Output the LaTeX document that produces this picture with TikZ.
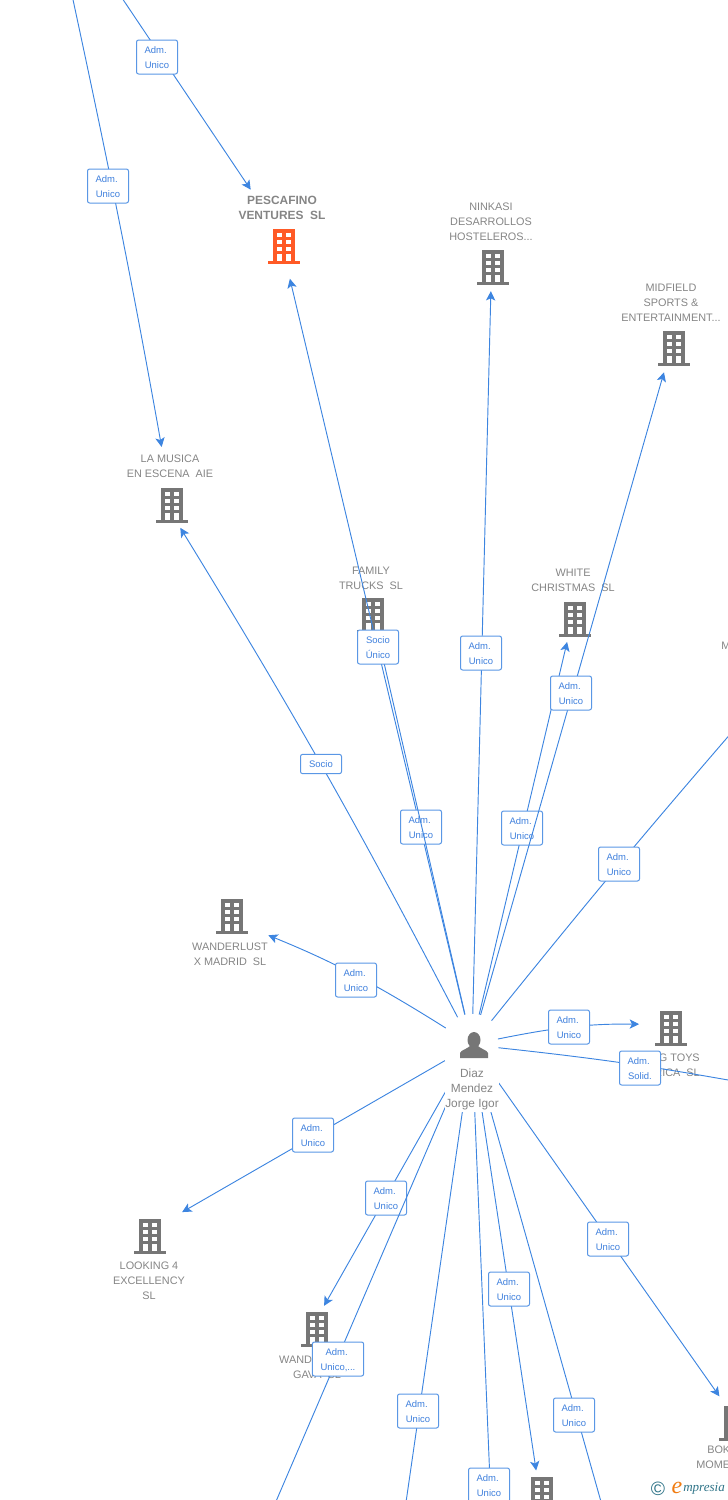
\documentclass[tikz,border=0pt]{standalone}
\usepackage{fontspec}
\usepackage{tikz}
\usetikzlibrary{arrows.meta}
\setmainfont{Liberation Sans}
\newfontfamily\logofont{Liberation Serif}
\definecolor{linkblue}{HTML}{3D85E0}
\definecolor{tagblue}{HTML}{3F80DD}
\definecolor{namegray}{HTML}{858585}
\definecolor{iconorange}{HTML}{FF5A26}
\definecolor{icongray}{HTML}{767676}
\definecolor{logoteal}{HTML}{2F7488}
\definecolor{logoorange}{HTML}{F07C12}
\newcommand{\topstrut}{\rule{0pt}{6.6pt}}
\newcommand{\adm}{\topstrut Adm.\kern2pt}
\tikzset{
    link/.style={draw=linkblue, line width=0.7pt, -{Stealth[length=7pt,width=7pt,inset=1.7pt]}},
    plainlink/.style={draw=linkblue, line width=0.7pt},
    tag/.style={draw=linkblue!85!white, fill=white, line width=0.75pt, rounded corners=1.6pt, align=center,
        text=tagblue, font=\fontsize{7.1}{11.25}\selectfont, inner sep=0pt, minimum width=30.75pt, minimum height=25.5pt},
    spot/.style={circle, inner sep=0pt, minimum size=36pt},
    coname/.style={align=center, text=namegray, font=\fontsize{8.15}{11.25}\selectfont, inner sep=0pt},
    building/.pic={
        \fill[pic actions] (-11,-17) rectangle (11,15);
        \fill[pic actions] (-16,15) rectangle (16,18);
        \foreach \wx in {-7,2.4} {
            \foreach \wy in {-13,-5.7,1} {
                \fill[white] (\wx,\wy) rectangle ++(4.6,4);
            }
            \fill[white] (\wx,7.6) rectangle ++(4.6,7.4);
        }
    }
}
\begin{document}
\begin{tikzpicture}[x=0.75pt, y=-0.75pt]
    \clip[use as bounding box] (0,0) rectangle (728,1500);

    % companies
    \foreach \co/\cx/\cy in {ninkasi/493/267, midfield/674/348, musica/172/505, family/373/615,
        white/575/619, wanderlust/232/916, toys/671/1028, looking/150/1236, wandel/317/1329,
        boka/735/1423, lastco/542/1494} {
        \node[spot] (\co) at (\cx,\cy) {};
        \pic[fill=icongray] at (\cx,\cy) {building};
    }
    \node[spot] (pescafino) at (284,246) {};
    \pic[fill=iconorange] at (284,246) {building};

    \node[coname, font=\bfseries\fontsize{8.95}{11.25}\selectfont] (pescafinoname) at (282,208) {PESCAFINO\\VENTURES\ \ SL};
    \node[coname] (ninkasiname) at (491,222) {NINKASI\\DESARROLLOS\\HOSTELEROS...};
    \node[coname] (midfieldname) at (671,303) {MIDFIELD\\SPORTS \&\\ENTERTAINMENT...};
    \node[coname] (musicaname) at (170,466) {LA MUSICA\\EN ESCENA\ \ AIE};
    \node[coname] (familyname) at (371,578) {FAMILY\\TRUCKS\ \ SL};
    \node[coname] (whitename) at (573,580) {WHITE\\CHRISTMAS\ \ SL};
    \node[coname] (wanderlustname) at (230,954) {WANDERLUST\\X MADRID\ \ SL};
    \node[coname, align=right, anchor=east] (toysname) at (700,1065) {G TOYS\\RICA\ \ SL};
    \node[coname] (lookingname) at (149,1281) {LOOKING 4\\EXCELLENCY\\SL};
    \node[coname] (wandelname) at (317,1367) {WANDERLUST\\GAVA\ \ SL};
    \node[coname, align=left, anchor=north west] (bokaname) at (696,1446) {\hspace*{8.25pt}BOK\\MOME};
    \node[coname, anchor=west] (edgename) at (721,646) {M};

    % person
    \node[circle, inner sep=0pt, minimum size=46.5pt] (hub) at (472,1045) {};

    \coordinate (offtopa) at (122,-2);
    \coordinate (offtopb) at (72,-5);
    \coordinate (offright) at (745,717);
    \coordinate (offsolid) at (745,1083);
    \coordinate (offbota) at (265,1527);
    \coordinate (offbotb) at (402,1530);
    \coordinate (offbotc) at (492,1530);
    \coordinate (offbotd) at (609,1530);

    % connectors, each with its own tag on top
    \draw[link, shorten >=31pt] (offtopa) -- (pescafino.115) node[tag] (tagtopa) at (157,57) {\adm\\Unico};
    \draw[link, shorten >=26pt] (offtopb) to[bend left=1] (musica) node[tag] (tagtopb) at (108,186) {\adm\\Unico};
    \draw[link, shorten >=6.75pt] (hub) -- (pescafino.279) node[tag] (tagpescafino) at (421,827) {\adm\\Unico};
    \draw[link] (hub) -- (family) node[tag] (tagfamily) at (378,647) {\topstrut Socio\\Único};
    \draw[link] (hub) -- (ninkasi.265) node[tag] (tagninkasi) at (481,653) {\adm\\Unico};
    \draw[link] (hub) -- (white.251) node[tag] (tagwhite) at (522,828) {\adm\\Unico};
    \draw[link, shorten >=1.5pt] (hub) -- (midfield.247) node[tag] (tagmidfield) at (571,693) {\adm\\Unico};
    \draw[link] (hub) to[bend right=2] (musica.290) node[tag, minimum height=14.5pt] (tagmusica) at (321,764) {Socio};
    \draw[link, shorten >=12.75pt] (hub) to[bend right=5] (wanderlust.328) node[tag] (tagwanderlust) at (356,980) {\adm\\Unico};
    \draw[plainlink] (hub) to[bend left=1] (offright) node[tag] (tagright) at (619,864) {\adm\\Unico};
    \draw[link, shorten >=6pt, shorten <=-3.5pt] (hub) to[bend left=6] (toys.171) node[tag] (tagtoys) at (569,1027) {\adm\\Unico};
    \draw[plainlink, shorten <=-3.5pt] (hub) to[bend left=2] (offsolid) node[tag] (tagsolid) at (640,1068) {\adm\\Solid.};
    \draw[link, shorten >=12pt] (hub) -- (looking.41) node[tag] (taglooking) at (313,1135) {\adm\\Unico};
    \draw[link] (hub) -- (wandel.73) node[tag] (tagwandel) at (386,1198) {\adm\\Unico};
    \draw[link, shorten >=5pt] (hub) -- (boka.119) node[tag] (tagboka) at (608,1239) {\adm\\Unico};
    \draw[plainlink] (hub) -- (offbota) node[tag, minimum width=38.5pt] (tagbota) at (338,1359) {\adm\\Unico,...};
    \draw[plainlink] (hub) -- (offbotb) node[tag] (tagbotb) at (418,1411) {\adm\\Unico};
    \draw[link] (hub) -- (lastco.104) node[tag] (taglast) at (509,1289) {\adm\\Unico};
    \draw[plainlink] (hub) -- (offbotc) node[tag] (tagbotc) at (489,1485) {\adm\\Unico};
    \draw[plainlink] (hub) -- (offbotd) node[tag] (tagbotd) at (574,1415) {\adm\\Unico};

    % person on top of the line ends
    \node[coname, fill=white, font=\fontsize{8.9}{11.25}\selectfont, minimum width=41pt, minimum height=35pt] (personname) at (472,1089) {Diaz\\Mendez\\Jorge Igor};
    \fill[icongray] (474,1040) ellipse (6.5 and 8);
    \fill[icongray] (460,1058) -- (460,1053) .. controls (461,1050) and (467,1049) .. (470,1046) -- (478,1046)
        .. controls (481,1049) and (487,1050) .. (488,1053) -- (488,1058) -- cycle;

    % logo
    \node[inner sep=0pt, text=logoteal, font=\fontsize{14.5}{14.5}\selectfont] (logoc) at (658,1489) {©};
    \node[inner sep=0pt, text=logoorange, font=\logofont\itshape\fontsize{18}{18}\selectfont] (logoe) at (677,1488) {e};
    \node[inner sep=0pt, anchor=west, text=logoteal, font=\logofont\itshape\fontsize{9.8}{9.8}\selectfont] (logotext) at (683,1489) {mpresia};
\end{tikzpicture}
\end{document}
